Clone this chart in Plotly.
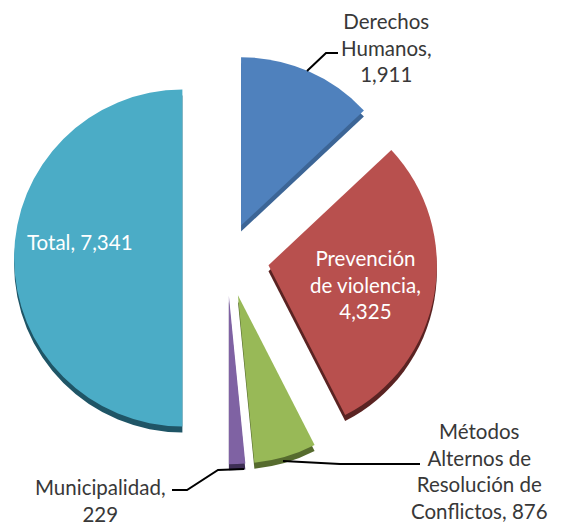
import plotly.graph_objects as go

categories = ["Derechos Humanos", "Prevención de violencia", "Métodos Alternos de Resolución de Conflictos", "Municipalidad", "Total"]
values = [1911, 4325, 876, 229, 7341]
pulls = [0.21, 0.25, 0.23, 0.225, 0.265]
top_colors = ["#4F81BD", "#B8504E", "#98B957", "#7F62A3", "#4BACC6"]
side_colors = ["#3C6596", "#5A2322", "#566B2E", "#3E2F55", "#1F5566"]

W, H = 564, 525
CX, CY, HALF = 227, 258, 213
DEPTH = 6

def domain(dy):
    return dict(x=[(CX - HALF) / W, (CX + HALF) / W],
                y=[1 - (CY + dy + HALF) / H, 1 - (CY + dy - HALF) / H])

fig = go.Figure()
for dy, colors in ((DEPTH, side_colors), (0, top_colors)):
    fig.add_trace(go.Pie(labels=categories, values=values, pull=pulls, sort=False,
                         direction="clockwise", rotation=0, textinfo="none",
                         hoverinfo="label+value", showlegend=False,
                         marker=dict(colors=colors, line=dict(width=0)),
                         domain=domain(dy)))

text_items = [
    ("Derechos<br>Humanos,<br>1,911", 386, 47, "#383838"),
    ("Prevención<br>de violencia,<br>4,325", 365, 284, "#FFFFFF"),
    ("Métodos<br>Alternos de<br>Resolución de<br>Conflictos, 876", 479, 471, "#383838"),
    ("Municipalidad,<br>229", 100, 500, "#383838"),
    ("Total, 7,341", 80, 242, "#FFFFFF"),
]
annotations = [dict(text=t, x=x / W, y=1 - y / H, xref="paper", yref="paper", showarrow=False,
                    xanchor="center", yanchor="middle", align="center",
                    font=dict(family="Lato", size=20.5, color=c))
               for t, x, y, c in text_items]

leaders = [
    [(307, 71), (326, 53), (338, 53)],
    [(283, 461), (340, 464), (420, 464)],
    [(244, 469), (218, 470), (187, 490), (172, 490)],
]
shapes = []
for pts in leaders:
    path = "M " + " L ".join(f"{x/W},{1-y/H}" for x, y in pts)
    shapes.append(dict(type="path", path=path, xref="paper", yref="paper",
                       line=dict(color="#000000", width=2), fillcolor="rgba(0,0,0,0)"))

fig.update_layout(width=W, height=H, margin=dict(l=0, r=0, t=0, b=0),
                  paper_bgcolor="#FFFFFF", annotations=annotations, shapes=shapes)
fig.write_html("out.html", config=dict(displayModeBar=False),
               post_script="document.body.style.margin='0';document.body.style.overflow='hidden';")
